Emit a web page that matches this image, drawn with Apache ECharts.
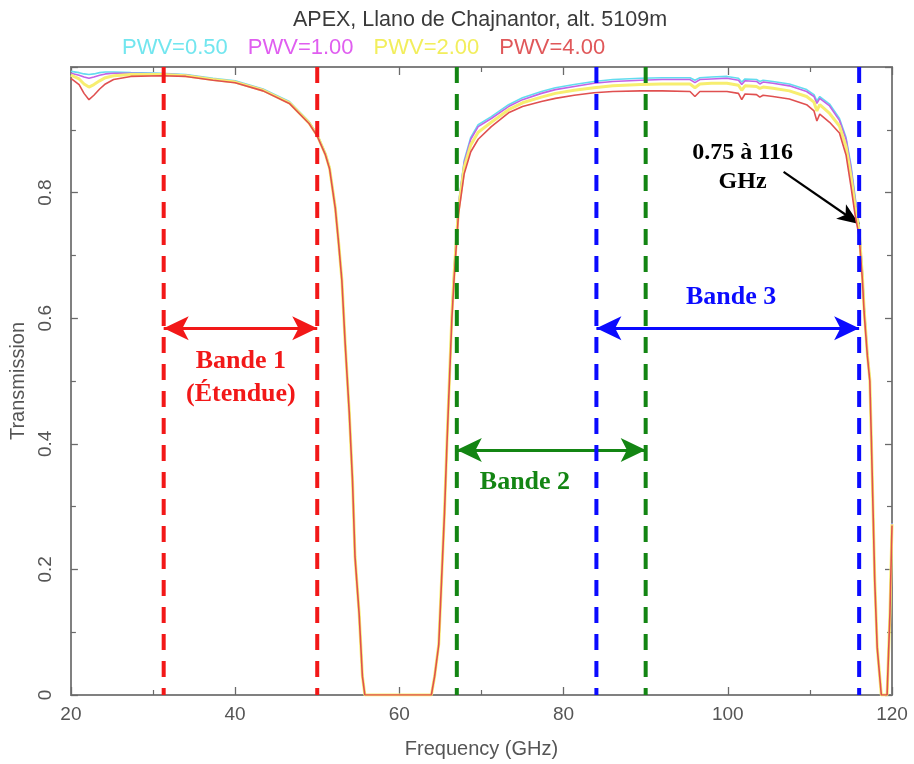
<!DOCTYPE html>
<html>
<head>
<meta charset="utf-8">
<script src="https://cdn.jsdelivr.net/npm/echarts@6/dist/echarts.min.js"></script>
<style>
  html, body { margin: 0; padding: 0; background: #ffffff; }
  #chart { width: 914px; height: 764px; }
</style>
</head>
<body>
<div id="chart"></div>
<script>
// Atmospheric transmission at APEX (Llano de Chajnantor, 5109 m), four water-vapour cases.
const freqGHz = [
  20, 21, 21.6, 22.2, 22.8, 23.5, 24.2, 25.2, 27.3, 31,
  34, 37.3, 40, 43.4, 46.6, 49, 50, 51, 51.5, 52.2,
  52.6, 53, 53.4, 53.9, 54.3, 54.6, 55.1, 55.5, 55.8, 60,
  63.9, 64.3, 64.8, 65.2, 65.5, 65.8, 66.1, 66.4, 66.7, 67.2,
  67.9, 68.7, 69.6, 71.2, 73.3, 75, 77.3, 79, 81.3, 83.7,
  86, 89.4, 92, 95.4, 96.0, 96.6, 98, 99.9, 101.3, 101.7,
  102.1, 103.5, 103.9, 104.3, 105.5, 107.5, 109.6, 110.5, 110.85, 111.2,
  112.4, 113.6, 114.4, 115.0, 115.5, 116.0, 116.4, 116.6, 117.0, 117.3,
  117.5, 117.7, 117.9, 118.2, 118.7, 119.4, 119.75, 120
];
const pwv050 = [
  0.993, 0.991, 0.989, 0.988, 0.989, 0.991, 0.992, 0.992, 0.991, 0.990,
  0.988, 0.982, 0.978, 0.965, 0.945, 0.913, 0.893, 0.863, 0.841, 0.778,
  0.723, 0.663, 0.563, 0.453, 0.343, 0.222, 0.132, 0.031, 0, 0,
  0, 0.031, 0.082, 0.204, 0.295, 0.406, 0.508, 0.612, 0.685, 0.782,
  0.851, 0.888, 0.908, 0.921, 0.940, 0.951, 0.961, 0.967, 0.972, 0.977,
  0.980, 0.982, 0.983, 0.983, 0.979, 0.983, 0.984, 0.985, 0.982, 0.976,
  0.981, 0.980, 0.977, 0.979, 0.977, 0.973, 0.964, 0.956, 0.946, 0.953,
  0.941, 0.918, 0.888, 0.844, 0.794, 0.748, 0.674, 0.622, 0.548, 0.505,
  0.402, 0.292, 0.186, 0.077, 0, 0, 0.132, 0.274
];
const pwv100 = [
  0.990, 0.987, 0.984, 0.982, 0.984, 0.987, 0.989, 0.990, 0.990, 0.989,
  0.987, 0.981, 0.977, 0.964, 0.944, 0.912, 0.892, 0.862, 0.840, 0.777,
  0.722, 0.662, 0.562, 0.452, 0.342, 0.222, 0.132, 0.031, 0, 0,
  0, 0.031, 0.082, 0.203, 0.294, 0.405, 0.507, 0.610, 0.683, 0.780,
  0.848, 0.885, 0.905, 0.918, 0.937, 0.948, 0.958, 0.964, 0.969, 0.974,
  0.977, 0.979, 0.980, 0.980, 0.975, 0.980, 0.981, 0.982, 0.979, 0.972,
  0.978, 0.977, 0.973, 0.976, 0.974, 0.970, 0.961, 0.953, 0.942, 0.950,
  0.938, 0.915, 0.885, 0.840, 0.790, 0.745, 0.672, 0.620, 0.546, 0.504,
  0.401, 0.291, 0.185, 0.077, 0, 0, 0.132, 0.273
];
const pwv200 = [
  0.987, 0.981, 0.973, 0.968, 0.972, 0.978, 0.983, 0.986, 0.988, 0.988,
  0.986, 0.980, 0.976, 0.963, 0.943, 0.911, 0.891, 0.861, 0.839, 0.776,
  0.721, 0.661, 0.561, 0.451, 0.341, 0.221, 0.131, 0.030, 0, 0,
  0, 0.030, 0.081, 0.201, 0.292, 0.403, 0.504, 0.606, 0.677, 0.773,
  0.840, 0.876, 0.896, 0.912, 0.932, 0.943, 0.952, 0.958, 0.963, 0.967,
  0.970, 0.972, 0.973, 0.973, 0.967, 0.973, 0.974, 0.974, 0.971, 0.963,
  0.970, 0.969, 0.966, 0.968, 0.966, 0.962, 0.953, 0.944, 0.930, 0.940,
  0.926, 0.906, 0.873, 0.826, 0.778, 0.738, 0.666, 0.615, 0.542, 0.502,
  0.400, 0.290, 0.184, 0.076, 0, 0, 0.131, 0.272
];
const pwv400 = [
  0.982, 0.972, 0.958, 0.948, 0.955, 0.965, 0.973, 0.980, 0.985, 0.986,
  0.985, 0.979, 0.975, 0.962, 0.942, 0.910, 0.890, 0.860, 0.838, 0.775,
  0.720, 0.660, 0.560, 0.450, 0.340, 0.220, 0.130, 0.030, 0, 0,
  0, 0.030, 0.080, 0.200, 0.290, 0.400, 0.500, 0.600, 0.670, 0.765,
  0.830, 0.865, 0.885, 0.905, 0.927, 0.937, 0.945, 0.950, 0.955, 0.959,
  0.961, 0.962, 0.962, 0.961, 0.953, 0.961, 0.961, 0.961, 0.958, 0.948,
  0.957, 0.956, 0.952, 0.955, 0.953, 0.949, 0.940, 0.930, 0.914, 0.925,
  0.912, 0.895, 0.860, 0.810, 0.765, 0.730, 0.660, 0.610, 0.540, 0.500,
  0.400, 0.290, 0.180, 0.075, 0, 0, 0.130, 0.270
];
const seriesNames = ['PWV=0.50', 'PWV=1.00', 'PWV=2.00', 'PWV=4.00'];

// Axis tick labels
const xTickLabels = [20, 40, 60, 80, 100, 120];
const yTickLabels = [0, 0.2, 0.4, 0.6, 0.8];

// Receiver bands (GHz) and the level of their span arrows
const bandNames = ['Bande 1\n(Étendue)', 'Bande 2', 'Bande 3'];
const bandEdgesGHz = [[31.3, 50], [67, 90], [84, 116]];
const bandArrowLevel = [0.584, 0.39, 0.584];

// Callout on the curve at the top of band 3
const noteText = '0.75 à 116\nGHz';
const notePoint = [116, 0.75];

const curveColors = ['#62dcef', '#c262e6', '#f7ee70', '#e05050'];
const legendColors = ['#72e6ef', '#e05ef0', '#f2ee5c', '#e0585a'];
const curveWidths = [1.6, 1.6, 3, 1.6];
const bandColors = ['#f21818', '#138513', '#0b0bff'];
const sansFont = "'Liberation Sans', Arial, sans-serif";
const serifFont = "'Liberation Serif', 'Times New Roman', serif";

const chart = echarts.init(document.getElementById('chart'), null, { renderer: 'canvas' });

const curveSeries = [pwv050, pwv100, pwv200, pwv400].map((vals, i) => ({
  type: 'line',
  name: seriesNames[i],
  data: freqGHz.map((f, k) => [f, vals[k]]),
  showSymbol: false,
  symbol: 'none',
  silent: true,
  lineStyle: { color: curveColors[i], width: curveWidths[i] },
  itemStyle: { color: curveColors[i] },
  z: 3 + i
}));

const edgeSeries = [];
bandEdgesGHz.forEach((edges, b) => {
  edges.forEach(e => {
    edgeSeries.push({
      type: 'line',
      data: [[e, 1], [e, 0]],
      showSymbol: false,
      symbol: 'none',
      silent: true,
      lineStyle: { color: bandColors[b], width: 4, type: [16, 11] },
      z: 10
    });
  });
});

const bandArrows = bandEdgesGHz.map((edges, b) => {
  const style = { color: bandColors[b], width: 3, type: 'solid' };
  return [
    { coord: [edges[0], bandArrowLevel[b]], symbol: 'arrow', symbolSize: [18, 25], lineStyle: style },
    { coord: [edges[1], bandArrowLevel[b]], symbol: 'arrow', symbolSize: [18, 25], lineStyle: style }
  ];
});
const noteStyle = { color: '#000000', width: 2.2, type: 'solid' };
const noteArrow = [
  { coord: [106.8, 0.833], symbol: 'none', lineStyle: noteStyle },
  { coord: notePoint, symbol: 'arrow', symbolSize: [13, 22], lineStyle: noteStyle }
];

const bandLabelPos = [[40.7, 0.505], [75.3, 0.339], [100.4, 0.633]];
const labelPoints = bandNames.map((name, b) => ({
  coord: bandLabelPos[b],
  symbol: 'rect',
  symbolSize: 1,
  itemStyle: { color: 'rgba(0,0,0,0)' },
  label: {
    show: true, position: 'inside', formatter: name,
    color: bandColors[b], fontSize: 26, fontWeight: 'bold',
    fontFamily: serifFont, lineHeight: 33, align: 'center'
  }
}));
labelPoints.push({
  coord: [101.8, 0.840],
  symbol: 'rect',
  symbolSize: 1,
  itemStyle: { color: 'rgba(0,0,0,0)' },
  label: {
    show: true, position: 'inside', formatter: noteText,
    color: '#000000', fontSize: 24, fontWeight: 'bold',
    fontFamily: serifFont, lineHeight: 29, align: 'center'
  }
});

const annotationSeries = {
  type: 'line',
  data: [],
  silent: true,
  z: 20,
  markLine: {
    silent: true,
    animation: false,
    label: { show: false },
    emphasis: { disabled: true },
    data: bandArrows.concat([noteArrow])
  },
  markPoint: {
    silent: true,
    animation: false,
    data: labelPoints
  }
};

const axisGray = '#808080';
const tickGray = '#6a6a6a';
const baseX = {
  type: 'value', min: 20, max: 120, interval: 20,
  axisLine: { show: true, onZero: false, lineStyle: { color: axisGray, width: 2 } },
  axisTick: { show: true, inside: true, length: 8, lineStyle: { color: tickGray, width: 1.3 } },
  minorTick: { show: true, splitNumber: 2, length: 5, lineStyle: { color: tickGray, width: 1.2 } },
  splitLine: { show: false },
  minorSplitLine: { show: false }
};
const baseY = {
  type: 'value', min: 0, max: 1, interval: 0.2,
  axisLine: { show: true, onZero: false, lineStyle: { color: axisGray, width: 2 } },
  axisTick: { show: true, inside: true, length: 7, lineStyle: { color: tickGray, width: 1.3 } },
  minorTick: { show: true, splitNumber: 2, length: 5, lineStyle: { color: tickGray, width: 1.2 } },
  splitLine: { show: false },
  minorSplitLine: { show: false }
};

chart.setOption({
  animation: false,
  backgroundColor: '#ffffff',
  title: {
    text: 'APEX, Llano de Chajnantor, alt. 5109m',
    left: 293, top: 9, padding: 0,
    textStyle: { fontFamily: sansFont, fontSize: 21.5, fontWeight: 'normal', color: '#3a3a3a' }
  },
  legend: {
    data: seriesNames.map((n, i) => ({ name: n, textStyle: { color: legendColors[i] } })),
    left: 117, top: 37, padding: 0,
    itemWidth: 0, itemHeight: 0, itemGap: 15,
    icon: 'rect',
    selectedMode: false,
    textStyle: { fontFamily: sansFont, fontSize: 22 }
  },
  grid: { left: 67, right: 22, top: 67, bottom: 68, containLabel: false },
  xAxis: [
    Object.assign({}, baseX, {
      position: 'bottom',
      name: 'Frequency (GHz)', nameLocation: 'middle', nameGap: 44,
      nameTextStyle: { fontFamily: sansFont, fontSize: 20, color: '#555555' },
      axisLabel: {
        fontFamily: sansFont, fontSize: 19, color: '#555555', margin: 10,
        formatter: v => (xTickLabels.indexOf(Math.round(v)) >= 0 ? String(Math.round(v)) : '')
      }
    }),
    Object.assign({}, baseX, { position: 'top', axisLabel: { show: false } })
  ],
  yAxis: [
    Object.assign({}, baseY, {
      position: 'left',
      name: 'Transmission', nameLocation: 'middle', nameGap: 40,
      nameTextStyle: { fontFamily: sansFont, fontSize: 20, color: '#555555' },
      axisLabel: {
        fontFamily: sansFont, fontSize: 19, color: '#555555', margin: 16, rotate: 90,
        formatter: v => {
          const r = Math.round(v * 10) / 10;
          return yTickLabels.indexOf(r) >= 0 ? String(r) : '';
        }
      }
    }),
    Object.assign({}, baseY, { position: 'right', axisLabel: { show: false } })
  ],
  series: curveSeries.concat(edgeSeries, [annotationSeries])
});
</script>
</body>
</html>
